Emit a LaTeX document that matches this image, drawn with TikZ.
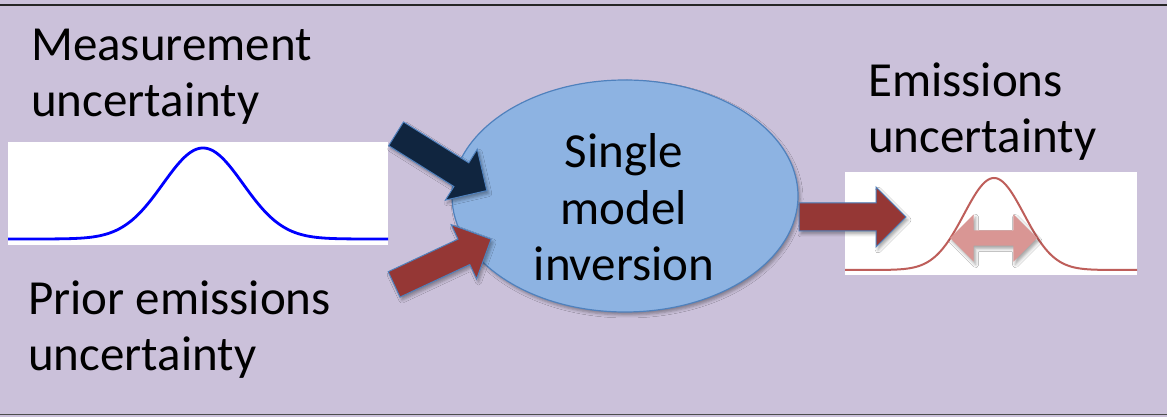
\documentclass[tikz,border=0pt]{standalone}
\usepackage{fontspec}
\setmainfont{Carlito}
\usetikzlibrary{shapes.geometric,shapes.arrows,shadows.blur}

\definecolor{lavender}{HTML}{CBC1DA}
\definecolor{ellblue}{HTML}{8DB3E2}
\definecolor{edgeblue}{HTML}{4F81BD}
\definecolor{navy}{HTML}{10253F}
\definecolor{brick}{HTML}{953735}
\definecolor{rose}{HTML}{D99694}
\definecolor{curvered}{HTML}{BE5E5A}

\tikzset{
  txt/.style={inner sep=0pt, font=\fontsize{49}{56}\selectfont, anchor=base west},
  panel/.style={rectangle, fill=white, inner sep=0pt},
  softshadow/.style={blur shadow={shadow xshift=2pt, shadow yshift=-3pt,
      shadow blur radius=3pt, shadow opacity=35}},
  blockarrow/.style={single arrow, inner xsep=0pt, inner ysep=13.5pt,
      minimum height=107pt, minimum width=59pt, single arrow head extend=16pt,
      draw=edgeblue, line width=1pt, softshadow},
}

\begin{document}
\begin{tikzpicture}[x=1pt, y=1pt]
\useasboundingbox (0,0) rectangle (1167,417);

% backdrop and frame rules
\fill[lavender] (0,0) rectangle (1167,417);
\draw[line width=2.5pt, black!85] (0,412) -- (1167,412);
\draw[line width=1.5pt, black!70] (0,2.5) -- (1167,2.5);

% input distribution panel
\node[panel, minimum width=380pt, minimum height=103pt] (mpanel) at (198,223.5) {};
\draw[blue, line width=2.8pt, line join=round]
  plot[domain=8:388, samples=160, smooth] (\x, {178+91*exp(-((\x-203)/40)^2/2)});

% output distribution panel
\node[panel, minimum width=292pt, minimum height=103pt] (epanel) at (991,193.5) {};
\draw[curvered, line width=2pt, line join=round]
  plot[domain=845:1137, samples=160, smooth] (\x, {147+92*exp(-((\x-994)/30)^2/2)});
\node[double arrow, fill=rose, inner xsep=0pt, inner ysep=7.5pt,
      minimum height=87pt, minimum width=47pt, double arrow head extend=16pt,
      softshadow] (spread) at (993.5,179) {};

% inversion
\node[ellipse, fill=ellblue, draw=edgeblue, line width=1.2pt,
      minimum width=346pt, minimum height=232pt, inner sep=0pt, softshadow]
      (inv) at (625,221) {};
\node[txt, anchor=base, font=\fontsize{49}{56.5}\selectfont] (invtext) at (624,249)
  {\vtop{\halign{\hfil#\hfil\cr Single\cr model\cr inversion\cr}}};

% flows into and out of the inversion
\node[blockarrow, fill=navy, rotate=-32.05] (measin) at (435.5,258.5) {};
\node[blockarrow, fill=brick, rotate=25] (priorin) at (436.25,152.25) {};
\node[blockarrow, fill=brick] (emisout) at (845.5,200) {};

% labels
\node[txt] (meas) at (31,356) {\vtop{\hbox{Measurement}\hbox{uncertainty}}};
\node[txt] (prior) at (28,102) {\vtop{\hbox{Prior emissions}\hbox{uncertainty}}};
\node[txt] (emis) at (868,320) {\vtop{\hbox{Emissions}\hbox{uncertainty}}};
\end{tikzpicture}
\end{document}
